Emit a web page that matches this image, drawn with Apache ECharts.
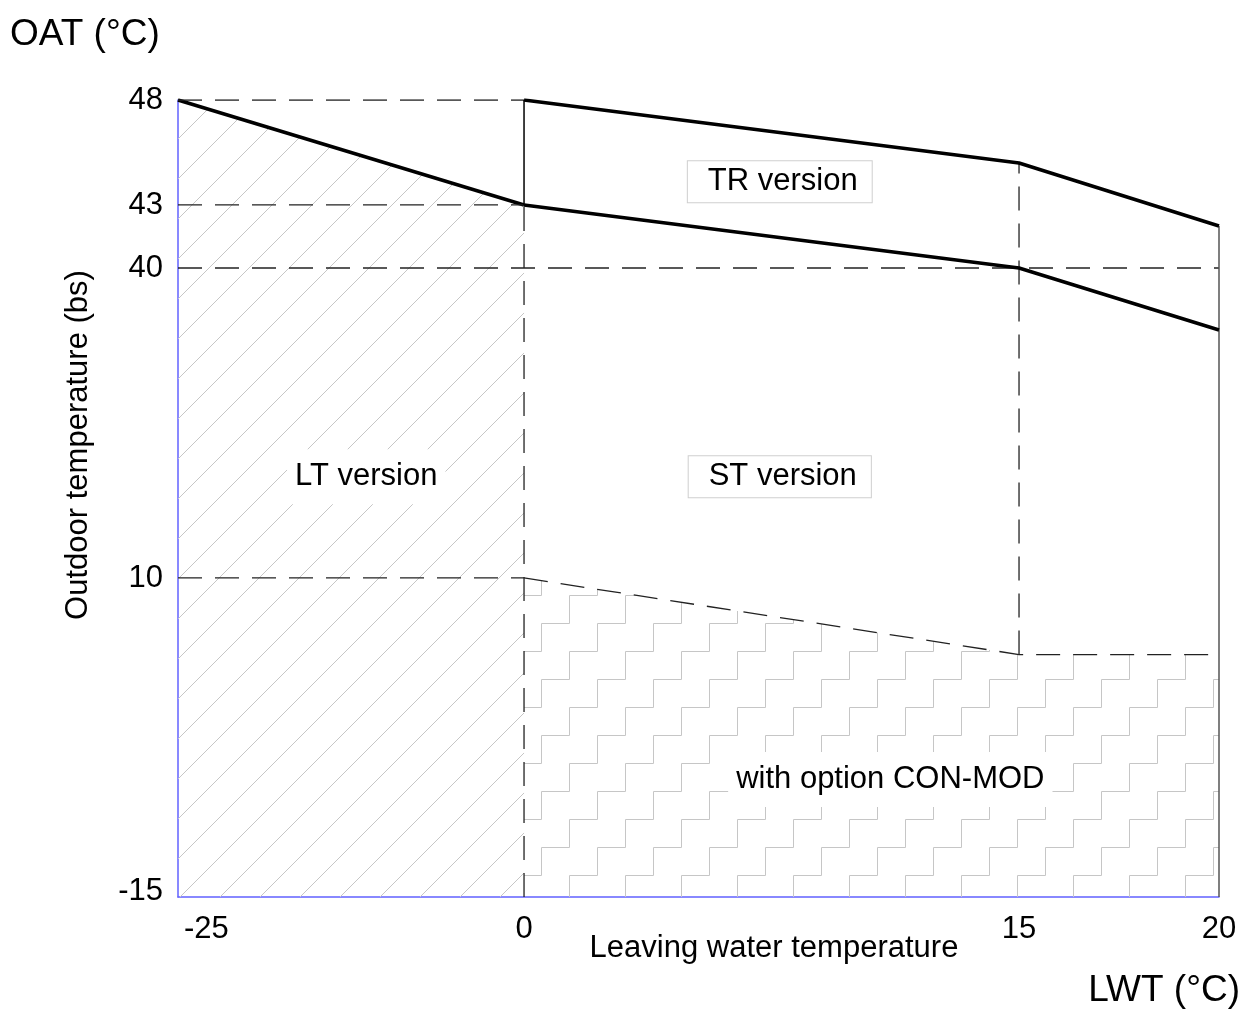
<!DOCTYPE html>
<html>
<head>
<meta charset="utf-8">
<script src="https://cdn.jsdelivr.net/npm/echarts@6/dist/echarts.min.js"></script>
<style>
  html, body { margin: 0; padding: 0; background: #fff; }
  #chart { width: 1244px; height: 1009px; }
</style>
</head>
<body>
<div id="chart"></div>
<script>
// Axis tick values
const lwtTicks = [-25, 0, 15, 20];
const oatTicks = [-15, 10, 40, 43, 48];

// Envelope boundaries: [LWT °C, OAT °C]
const ltUpper = [[-25, 48], [0, 43]];
const stUpper = [[0, 43], [15, 40], [20, 34]];
const trUpper = [[0, 48], [15, 45], [20, 42]];
const conModUpper = [[0, 10], [15, 4], [20, 4]];

// Guide lines
const guideDashed = [
  [[-25, 48], [0, 48]],
  [[-25, 43], [0, 43]],
  [[-25, 40], [20, 40]],
  [[-25, 10], [0, 10]],
  [[0, -15], [0, 43]],
  [[15, 4], [15, 45]]
];
const guideSolid = [[0, 43], [0, 48]];
const rightEdge = [[20, -15], [20, 42]];

// Region captions: [LWT, OAT] of the caption centre
const captionNames = ['TR version', 'ST version', 'LT version', 'with option CON-MOD'];
const captionAt = [[7.75, 44.1], [7.75, 19.8], [-11.4, 19.8], [11.1, -5.8]];
const captionBoxed = [true, true, false, false];

// The axes are piecewise linear between ticks: share of the plot at each tick
const X_STOPS = [0, 0.3324, 0.8079, 1];
const Y_STOPS = [0, 0.4003, 0.7892, 0.8683, 1];

function piece(v, vals, stops) {
  for (let i = 0; i < vals.length - 1; i++) {
    if (v <= vals[i + 1] || i === vals.length - 2) {
      const t = (v - vals[i]) / (vals[i + 1] - vals[i]);
      return stops[i] + t * (stops[i + 1] - stops[i]);
    }
  }
}
function unpiece(p, vals, stops) {
  for (let i = 0; i < stops.length - 1; i++) {
    if (p <= stops[i + 1] + 1e-9 || i === stops.length - 2) {
      const t = (p - stops[i]) / (stops[i + 1] - stops[i]);
      return vals[i] + t * (vals[i + 1] - vals[i]);
    }
  }
}
const fx = v => piece(v, lwtTicks, X_STOPS);
const fy = v => piece(v, oatTicks, Y_STOPS);
const toPlot = pts => pts.map(p => [fx(p[0]), fy(p[1])]);

// Fill patterns
function diagonalHatch() {
  const c = document.createElement('canvas');
  c.width = 40; c.height = 40;
  const g = c.getContext('2d');
  g.strokeStyle = '#c6c6c6';
  g.lineWidth = 1;
  [-3, 37, 77].forEach(k => {
    g.beginPath();
    g.moveTo(k - 45, 45);
    g.lineTo(k + 5, -5);
    g.stroke();
  });
  return c;
}
function stairHatch() {
  const c = document.createElement('canvas');
  c.width = 56; c.height = 56;
  const g = c.getContext('2d');
  g.strokeStyle = '#c6c6c6';
  g.lineWidth = 1;
  for (let j = -1; j <= 2; j++) {
    for (let i = -3; i <= 4; i++) {
      const x = 9.5 + 28 * i + 56 * j;
      const y = 35.5 - 28 * i;
      g.beginPath();
      g.moveTo(x, y);
      g.lineTo(x + 28, y);
      g.lineTo(x + 28, y - 28);
      g.stroke();
    }
  }
  return c;
}

const FONT = "'Liberation Sans', Arial, sans-serif";
const AXIS_BLUE = '#6262ff';

const series = [];

// LT envelope with hatched area
series.push({
  type: 'line', data: toPlot(ltUpper), symbol: 'none', z: 3,
  lineStyle: { color: '#000', width: 3.5 },
  areaStyle: { origin: 'start', opacity: 1, color: { image: diagonalHatch(), repeat: 'repeat' } }
});
// CON-MOD area
series.push({
  type: 'line', data: toPlot(conModUpper), symbol: 'none', z: 2,
  lineStyle: { color: '#222', width: 1.3, type: [24, 13] },
  areaStyle: { origin: 'start', opacity: 1, color: { image: stairHatch(), repeat: 'repeat' } }
});
// Dashed guides
guideDashed.forEach(seg => series.push({
  type: 'line', data: toPlot(seg), symbol: 'none', z: 3,
  lineStyle: { color: '#222', width: 1.3, type: [24, 13] }
}));
// Thin solid edges
series.push({
  type: 'line', data: toPlot(guideSolid), symbol: 'none', z: 3,
  lineStyle: { color: '#000', width: 1.5 }
});
series.push({
  type: 'line', data: toPlot(rightEdge), symbol: 'none', z: 3,
  lineStyle: { color: '#555', width: 1.5 }
});
// ST and TR envelopes
[stUpper, trUpper].forEach(pts => series.push({
  type: 'line', data: toPlot(pts), symbol: 'none', z: 4,
  lineStyle: { color: '#000', width: 3.5 }
}));
// Region captions
series.push({
  type: 'scatter', symbolSize: 0, z: 5,
  itemStyle: { opacity: 1 },
  data: captionNames.map((n, i) => ({
    value: [fx(captionAt[i][0]), fy(captionAt[i][1])],
    label: {
      show: true, position: 'inside', formatter: n,
      fontFamily: FONT, fontSize: 31, lineHeight: 31, color: '#000', opacity: 1,
      backgroundColor: '#fff',
      borderColor: captionBoxed[i] ? '#cfcfcf' : 'transparent',
      borderWidth: captionBoxed[i] ? 1 : 0,
      padding: captionBoxed[i] ? [5, 14, 5, 20] : [12, 8, 12, 8]
    }
  }))
});

const chart = echarts.init(document.getElementById('chart'), null, { renderer: 'canvas' });
chart.setOption({
  animation: false,
  backgroundColor: '#fff',
  grid: { left: 178, right: 25, top: 100, bottom: 112, outerBoundsMode: 'none' },
  xAxis: {
    type: 'value', min: 0, max: 1,
    axisLine: { onZero: false, lineStyle: { color: AXIS_BLUE, width: 1.5 } },
    axisTick: { show: false },
    splitLine: { show: false },
    axisLabel: {
      customValues: lwtTicks.map(fx),
      formatter: v => {
        const t = Math.round(unpiece(v, lwtTicks, X_STOPS));
        return t === lwtTicks[0] ? '{first|' + t + '}' : String(t);
      },
      rich: { first: { padding: [0, 0, 0, 6], fontSize: 31, fontFamily: FONT, color: '#000' } },
      alignMinLabel: 'left',
      margin: 17, fontSize: 31, fontFamily: FONT, color: '#000'
    }
  },
  yAxis: {
    type: 'value', min: 0, max: 1,
    axisLine: { onZero: false, lineStyle: { color: AXIS_BLUE, width: 1.5 } },
    axisTick: { show: false },
    splitLine: { show: false },
    axisLabel: {
      customValues: oatTicks.map(fy),
      formatter: v => {
        const t = Math.round(unpiece(v, oatTicks, Y_STOPS));
        return t === oatTicks[0] ? '{first|' + t + '}' : String(t);
      },
      rich: { first: { padding: [0, 0, 12, 0], fontSize: 31, fontFamily: FONT, color: '#000' } },
      margin: 15, fontSize: 31, fontFamily: FONT, color: '#000'
    }
  },
  graphic: [
    { type: 'text', left: 10, top: 16,
      style: { text: 'OAT (°C)', font: "37px " + FONT, fill: '#000' } },
    { type: 'text', right: 4, top: 972,
      style: { text: 'LWT (°C)', font: "37px " + FONT, fill: '#000' } },
    { type: 'text', x: 774, y: 948,
      style: { text: 'Leaving water temperature', font: "31px " + FONT, fill: '#000', align: 'center', verticalAlign: 'middle' } },
    { type: 'text', x: 78, y: 445, rotation: Math.PI / 2,
      style: { text: 'Outdoor temperature (bs)', font: "31px " + FONT, fill: '#000', align: 'center', verticalAlign: 'middle' } }
  ],
  series: series
});
</script>
</body>
</html>
